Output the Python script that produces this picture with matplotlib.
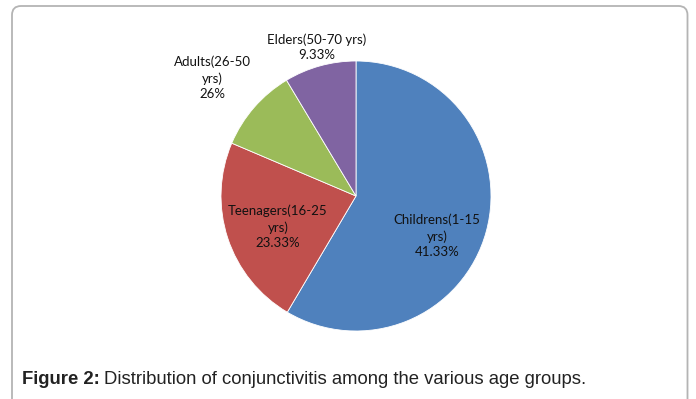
import matplotlib.pyplot as plt
from matplotlib.patches import FancyBboxPatch

# slice sizes as drawn (the printed percentages do not match the drawing)
groups = ["Childrens(1-15\nyrs)", "Teenagers(16-25\nyrs)", "Adults(26-50\nyrs)", "Elders(50-70 yrs)"]
slice_sizes = [58.5, 22.9, 10.0, 8.6]
printed_pct = ["41.33%", "23.33%", "26%", "9.33%"]
colors = ["#4F81BD", "#C0504D", "#9BBB59", "#8064A2"]
caption_bold = "Figure 2:"
caption = "Distribution of conjunctivitis among the various age groups."

W, H = 696, 399
fig = plt.figure(figsize=(W / 100, H / 100), dpi=100)
ax = fig.add_axes([0, 0, 1, 1])

cx, cy, r = 356, H - 196, 135
ax.pie(slice_sizes, colors=colors, startangle=90, counterclock=False,
       center=(cx, cy), radius=r, frame=True,
       wedgeprops={"edgecolor": "white", "linewidth": 0.6})
ax.set_xlim(0, W)
ax.set_ylim(0, H)
ax.axis("off")

# label positions (pixel coords, y from top)
label_pos = [(437, 236), (278, 227), (212, 78), (317, 47)]
for g, p, (x, y) in zip(groups, printed_pct, label_pos):
    ax.text(x, H - y, g + "\n" + p, ha="center", va="center",
            fontsize=9.5, family="Lato", color="#111111", linespacing=1.35)

# rounded frame
frame = FancyBboxPatch((12, -20), 675.5, H - 6 + 20, boxstyle="round,pad=0,rounding_size=9",
                       transform=ax.transData, facecolor="none",
                       edgecolor="#b4b4b4", linewidth=1.3, clip_on=False)
ax.add_patch(frame)

t1 = ax.text(22, H - 379, caption_bold, ha="left", va="center",
             fontsize=13.3, family="Liberation Sans", weight="bold", color="#222222")
fig.canvas.draw()
bb = t1.get_window_extent()
ax.text(bb.x1 + 4, H - 379, caption,
        ha="left", va="center", fontsize=13.3, family="Liberation Sans", color="#222222")

fig.savefig("out.png", dpi=100)
